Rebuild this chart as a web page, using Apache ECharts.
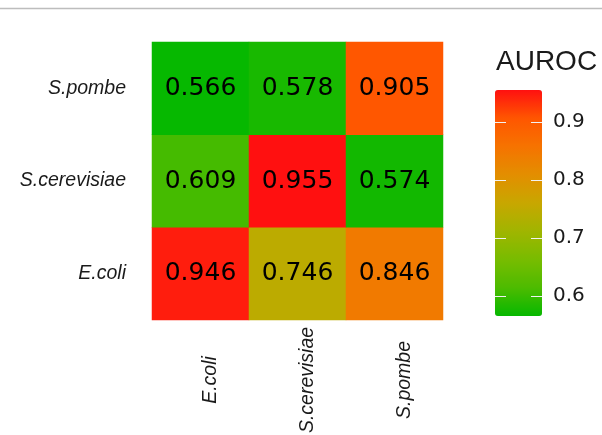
<!DOCTYPE html>
<html>
<head>
<meta charset="utf-8">
<script src="https://cdn.jsdelivr.net/npm/echarts@6/dist/echarts.min.js"></script>
<style>
html,body{margin:0;padding:0;background:#fff;}
#container{width:602px;height:435px;}
</style>
</head>
<body>
<div id="container"></div>
<script>
// species on both axes (y from bottom to top)
var species = ['E.coli', 'S.cerevisiae', 'S.pombe'];
// AUROC per row (y species), columns follow species order
var rowEcoli = [0.946, 0.746, 0.846];
var rowScer = [0.609, 0.955, 0.574];
var rowSpombe = [0.566, 0.578, 0.905];
var legendTicks = [0.6, 0.7, 0.8, 0.9];
var rampColors = ['#06b800','#4dbb00','#78bc00','#a0b500','#c8a700','#e38e00','#f67300','#ff5600','#ff1010'];

var rows = [rowEcoli, rowScer, rowSpombe];
var cells = [];
for (var r = 0; r < rows.length; r++) {
	for (var c = 0; c < rows[r].length; c++) {
		cells.push([c, r, rows[r][c]]);
	}
}
var allVals = cells.map(function(d){ return d[2]; });
var vmin = Math.min.apply(null, allVals), vmax = Math.max.apply(null, allVals);

var speciesFont = {
	fontFamily: 'Liberation Sans',
	fontStyle: 'italic',
	fontSize: 19.5,
	color: '#1a1a1a'
};

var dom = document.getElementById('container');
var myChart = echarts.init(dom);
var option = {
	animation: false,
	title: {
		text: 'AUROC',
		left: 496,
		top: 48,
		padding: 0,
		textStyle: {fontFamily: 'Liberation Sans', fontSize: 28, fontWeight: 'normal', color: '#1a1a1a'}
	},
	graphic: [{
		type: 'line',
		shape: {x1: 0, y1: 8.5, x2: 602, y2: 8.5},
		style: {stroke: '#bdbdbd', lineWidth: 1.5}
	}],
	grid: [
		{left: 152, top: 42, width: 291, height: 278, outerBoundsMode: 'none'},
		{left: 495, top: 90, width: 47, height: 226, outerBoundsMode: 'none'}
	],
	xAxis: [{
		type: 'category',
		data: species,
		axisLine: {show: false},
		axisTick: {show: false},
		splitLine: {show: false},
		axisLabel: echarts.util.extend({
			rotate: 90,
			align: 'center',
			verticalAlign: 'top',
			margin: 60
		}, speciesFont)
	}, {
		type: 'value',
		gridIndex: 1,
		min: 0,
		max: 1,
		show: false
	}],
	yAxis: [{
		type: 'category',
		data: species,
		axisLine: {show: false},
		axisTick: {show: false},
		splitLine: {show: false},
		axisLabel: echarts.util.extend({margin: 26}, speciesFont)
	}, {
		type: 'value',
		gridIndex: 1,
		position: 'right',
		min: vmin,
		max: vmax,
		axisLine: {show: false},
		splitLine: {show: false},
		axisTick: {show: false},
		axisLabel: {
			customValues: legendTicks,
			margin: 11,
			formatter: function(v){ return v.toFixed(1); },
			fontFamily: 'DejaVu Sans',
			fontSize: 20,
			color: '#1a1a1a'
		}
	}],
	visualMap: {
		type: 'continuous',
		min: vmin,
		max: vmax,
		calculable: false,
		seriesIndex: 0,
		left: 495,
		top: 90,
		padding: 0,
		itemWidth: 47,
		itemHeight: 226,
		text: null,
		inRange: {color: rampColors}
	},
	series: [{
		type: 'heatmap',
		data: cells,
		itemStyle: {borderWidth: 0},
		label: {
			show: true,
			formatter: function(p){ return p.value[2].toFixed(3); },
			fontFamily: 'DejaVu Sans',
			fontSize: 25,
			color: '#000'
		},
		emphasis: {disabled: true}
	}, {
		// white tick marks on the colour bar, both edges
		type: 'custom',
		xAxisIndex: 1,
		yAxisIndex: 1,
		z: 10,
		silent: true,
		data: legendTicks.map(function(v){ return [0, v]; }),
		encode: {x: 0, y: 1},
		renderItem: function(params, api){
			var l = api.coord([0, api.value(1)]);
			var r = api.coord([1, api.value(1)]);
			var y = Math.round(l[1]) + 0.5;
			var st = {stroke: '#f2f2f2', lineWidth: 1};
			return {type: 'group', children: [
				{type: 'line', shape: {x1: l[0], y1: y, x2: l[0] + 11, y2: y}, style: st},
				{type: 'line', shape: {x1: r[0] - 11, y1: y, x2: r[0], y2: y}, style: st}
			]};
		}
	}]
};
myChart.setOption(option, true);
</script>
</body>
</html>
